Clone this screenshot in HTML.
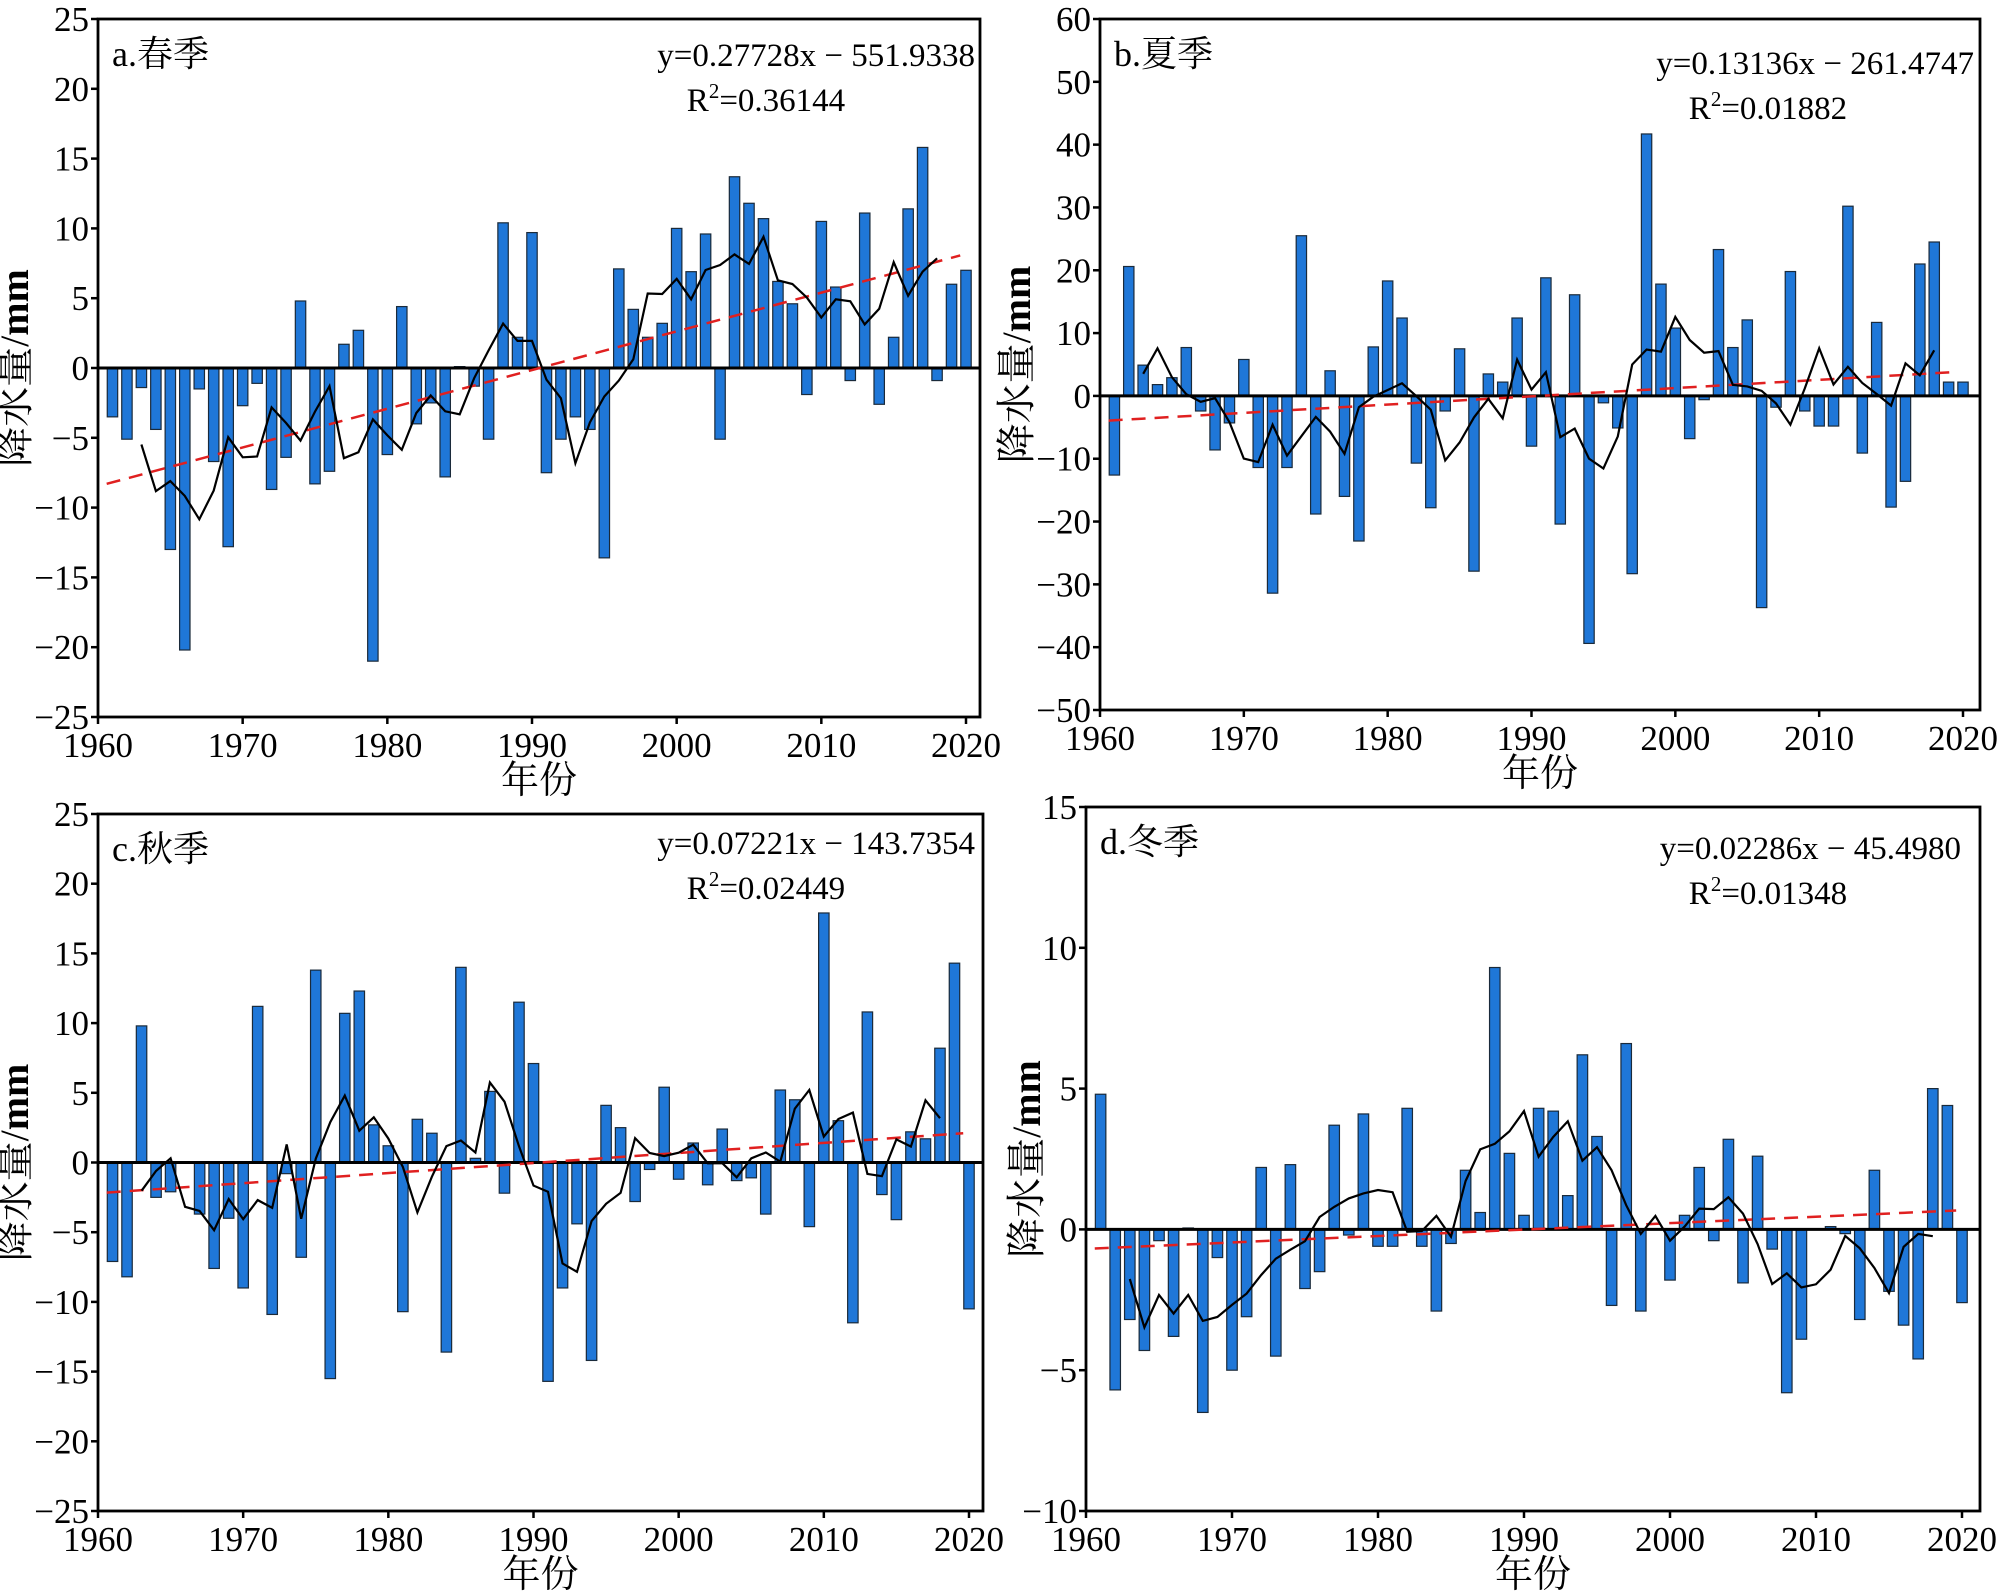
<!DOCTYPE html>
<html><head><meta charset="utf-8">
<style>
html,body{margin:0;padding:0;background:#fff;}
svg{display:block;font-family:"Liberation Serif","Noto Serif CJK SC","Noto Sans CJK SC",serif;}
</style></head>
<body>
<svg id="chart" width="2000" height="1596" viewBox="0 0 2000 1596" xmlns="http://www.w3.org/2000/svg"></svg>
<script>
const years = [];
for (let y = 1961; y <= 2020; y++) years.push(y);
const xTicks = [1960, 1970, 1980, 1990, 2000, 2010, 2020];
const springValues = [-3.5,-5.1,-1.4,-4.4,-13,-20.2,-1.5,-6.7,-12.8,-2.7,-1.1,-8.7,-6.4,4.8,-8.3,-7.4,1.7,2.7,-21,-6.2,4.4,-4,-2.5,-7.8,0.1,-1.3,-5.1,10.4,2.2,9.7,-7.5,-5.1,-3.5,-4.4,-13.6,7.1,4.2,2.2,3.2,10,6.9,9.6,-5.1,13.7,11.8,10.7,6.2,4.6,-1.9,10.5,5.8,-0.9,11.1,-2.6,2.2,11.4,15.8,-0.9,6,7];
const summerValues = [-12.6,20.6,4.9,1.8,2.9,7.7,-2.4,-8.6,-4.3,5.8,-11.4,-31.4,-11.4,25.5,-18.8,4,-16,-23.1,7.8,18.3,12.4,-10.7,-17.8,-2.4,7.5,-27.9,3.5,2.2,12.4,-8,18.8,-20.4,16.1,-39.4,-1.1,-5.1,-28.3,41.7,17.8,10.8,-6.8,-0.6,23.3,7.7,12.1,-33.7,-1.8,19.8,-2.4,-4.8,-4.8,30.2,-9.1,11.7,-17.7,-13.6,21,24.5,2.2,2.2];
const autumnValues = [-7.1,-8.2,9.8,-2.5,-2.1,0,-3.7,-7.6,-4,-9,11.2,-10.9,-0.8,-6.8,13.8,-15.5,10.7,12.3,2.7,1.2,-10.7,3.1,2.1,-13.6,14,0.3,5.1,-2.2,11.5,7.1,-15.7,-9,-4.4,-14.2,4.1,2.5,-2.8,-0.5,5.4,-1.2,1.4,-1.6,2.4,-1.3,-1.1,-3.7,5.2,4.5,-4.6,17.9,3,-11.5,10.8,-2.3,-4.1,2.2,1.7,8.2,14.3,-10.5];
const winterValues = [4.8,-5.7,-3.2,-4.3,-0.4,-3.8,0.05,-6.5,-1,-5,-3.1,2.2,-4.5,2.3,-2.1,-1.5,3.7,-0.2,4.1,-0.6,-0.6,4.3,-0.6,-2.9,-0.5,2.1,0.6,9.3,2.7,0.5,4.3,4.2,1.2,6.2,3.3,-2.7,6.6,-2.9,0,-1.8,0.5,2.2,-0.4,3.2,-1.9,2.6,-0.7,-5.8,-3.9,0,0.1,-0.15,-3.2,2.1,-2.2,-3.4,-4.6,5,4.4,-2.6];
const springYTicks = [25,20,15,10,5,0,-5,-10,-15,-20,-25];
const summerYTicks = [60,50,40,30,20,10,0,-10,-20,-30,-40,-50];
const autumnYTicks = [25,20,15,10,5,0,-5,-10,-15,-20,-25];
const winterYTicks = [15,10,5,0,-5,-10];
const springTrend = [0.27728, -551.9338];
const summerTrend = [0.13136, -261.4747];
const autumnTrend = [0.07221, -143.7354];
const winterTrend = [0.02286, -45.4980];

const NS = "http://www.w3.org/2000/svg";
const svg = document.getElementById('chart');
function mk(tag, attrs, parent) {
  const e = document.createElementNS(NS, tag);
  for (const k in attrs) e.setAttribute(k, attrs[k]);
  (parent || svg).appendChild(e);
  return e;
}
function movingAvg(v, w) {
  const h = Math.floor(w / 2), out = [];
  for (let i = h; i < v.length - h; i++) {
    let s = 0; for (let j = i - h; j <= i + h; j++) s += v[j];
    out.push([years[i], s / w]);
  }
  return out;
}

function panel(cfg) {
  const g = mk('g', {});
  
  
  const xs = v => cfg.x0 + (v - 1960) * (cfg.x2020 - cfg.x0) / 60;
  const ys = v => cfg.top + (cfg.ymax - v) * (cfg.bottom - cfg.top) / (cfg.ymax - cfg.ymin);
  const bw = (cfg.x2020 - cfg.x0) / 60 * 0.72;
  cfg.values.forEach((v, i) => {
    const x = xs(years[i]) - bw / 2, y0 = ys(0), y1 = ys(v);
    const r = mk('rect', {x: x, y: Math.min(y0, y1), width: bw, height: Math.max(Math.abs(y1 - y0), 0.5), fill: '#1f77d8', stroke: '#1a2a3a', 'stroke-width': 1.2}, g);
    
    
  });
  const zl = mk('line', {x1: cfg.left, x2: cfg.right, y1: ys(0), y2: ys(0), stroke: '#000', 'stroke-width': 3}, g);
  
  
  const t0 = 1960.6, t1 = 2019.6;
  const tr = mk('line', {x1: xs(t0), y1: ys(cfg.trend[0] * t0 + cfg.trend[1]), x2: xs(t1), y2: ys(cfg.trend[0] * t1 + cfg.trend[1]), stroke: '#e02020', 'stroke-width': 2.5, 'stroke-dasharray': '14,9'}, g);
  
  
  const ma = movingAvg(cfg.values, 5);
  const pl = mk('polyline', {points: ma.map(p => xs(p[0]).toFixed(1) + ',' + ys(p[1]).toFixed(1)).join(' '), fill: 'none', stroke: '#000', 'stroke-width': 2.2}, g);
  
  
  const fr = mk('rect', {x: cfg.left, y: cfg.top, width: cfg.right - cfg.left, height: cfg.bottom - cfg.top, fill: 'none', stroke: '#000', 'stroke-width': 2.8}, g);
  
  
  cfg.yTicks.forEach(t => {
    const y = ys(t);
    mk('line', {x1: cfg.left - 7, x2: cfg.left, y1: y, y2: y, stroke: '#000', 'stroke-width': 2.5}, g);
    const tx = mk('text', {x: cfg.left - 9, y: y + 12, 'text-anchor': 'end', 'font-size': 35}, g);
    tx.textContent = t < 0 ? '\u2212' + (-t) : String(t);
    
    
  });
  xTicks.forEach(t => {
    const x = xs(t);
    mk('line', {x1: x, x2: x, y1: cfg.bottom, y2: cfg.bottom + 7, stroke: '#000', 'stroke-width': 2.5}, g);
    const tx = mk('text', {x: x, y: cfg.bottom + 40, 'text-anchor': 'middle', 'font-size': 35}, g);
    tx.textContent = String(t);
    
    
  });
  const xt = mk('text', {x: (cfg.left + cfg.right) / 2, y: cfg.bottom + 76, 'text-anchor': 'middle', 'font-size': 38}, g);
  xt.textContent = '年份';
  
  
  const yt = mk('text', {x: 0, y: 0, 'text-anchor': 'middle', 'font-size': 40, transform: 'translate(' + cfg.ytX + ',' + ((cfg.top + cfg.bottom) / 2) + ') rotate(-90)'}, g);
  
  
  const s1 = mk('tspan', {}, yt); s1.textContent = '降水量/';
  const s2 = mk('tspan', {'font-weight': 'bold'}, yt); s2.textContent = 'mm';
  const pt = mk('text', {x: cfg.left + 14, y: cfg.top + 47, 'font-size': 36}, g);
  pt.textContent = cfg.label;
  
  
  const eq = mk('text', {x: cfg.eqX, y: cfg.eqY, 'text-anchor': 'end', 'font-size': 33}, g);
  eq.textContent = cfg.eq;
  
  
  const r2 = mk('text', {x: cfg.r2X, y: cfg.eqY + 45, 'text-anchor': 'middle', 'font-size': 33}, g);
  
  
  const a = mk('tspan', {}, r2); a.textContent = 'R';
  const b = mk('tspan', {'font-size': 21, dy: -13}, r2); b.textContent = '2';
  const c = mk('tspan', {dy: 13}, r2); c.textContent = '=' + cfg.r2;
}

panel({name:'panel-a-spring', label:'a.春季', values:springValues, yTicks:springYTicks, trend:springTrend, ymax:25, ymin:-25,
  left:98, right:980, top:19, bottom:717, x0:98, x2020:966, ytX:28,
  eq:'y=0.27728x \u2212 551.9338', eqX:975, eqY:66, r2:'0.36144', r2X:766});
panel({name:'panel-b-summer', label:'b.夏季', values:summerValues, yTicks:summerYTicks, trend:summerTrend, ymax:60, ymin:-50,
  left:1100, right:1980, top:19, bottom:710, x0:1100, x2020:1963, ytX:1030,
  eq:'y=0.13136x \u2212 261.4747', eqX:1974, eqY:74, r2:'0.01882', r2X:1768});
panel({name:'panel-c-autumn', label:'c.秋季', values:autumnValues, yTicks:autumnYTicks, trend:autumnTrend, ymax:25, ymin:-25,
  left:98, right:983, top:814, bottom:1511, x0:98, x2020:969, ytX:28,
  eq:'y=0.07221x \u2212 143.7354', eqX:975, eqY:854, r2:'0.02449', r2X:766});
panel({name:'panel-d-winter', label:'d.冬季', values:winterValues, yTicks:winterYTicks, trend:winterTrend, ymax:15, ymin:-10,
  left:1086, right:1980, top:807, bottom:1511, x0:1086, x2020:1962, ytX:1040,
  eq:'y=0.02286x \u2212 45.4980', eqX:1961, eqY:859, r2:'0.01348', r2X:1768});
</script>
</body></html>
